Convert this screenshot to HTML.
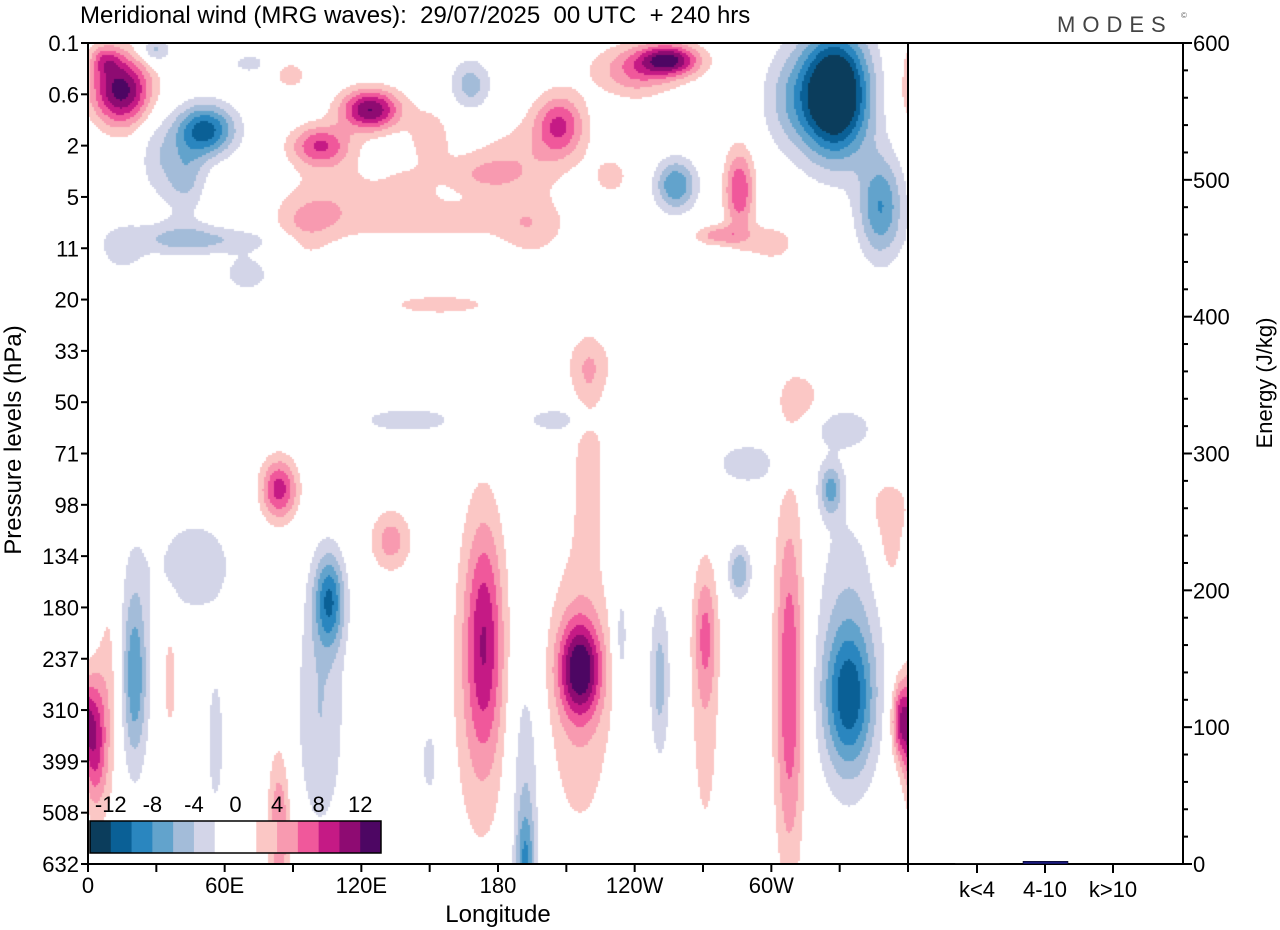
<!DOCTYPE html>
<html><head><meta charset="utf-8"><style>
html,body{margin:0;padding:0;background:#fff;width:1280px;height:930px;overflow:hidden}
#wrap{position:relative;width:1280px;height:930px;font-family:"Liberation Sans",sans-serif}
canvas{position:absolute;left:88px;top:43px}
svg{position:absolute;left:0;top:0}
</style></head><body>
<div id="wrap">
<canvas id="field" width="820" height="821"></canvas>
<svg id="ax" width="1280" height="930"></svg>
</div>
<script>
// ---- data ----
const levelLabels=["0.1","0.6","2","5","11","20","33","50","71","98","134","180","237","310","399","508","632"];
const lonTickLabels=["0","60E","120E","180","120W","60W"];
const lonTickValues=[0,60,120,180,240,300];
const cbarLabels=["-12","-8","-4","0","4","8","12"];
const cbarValues=[-12,-8,-4,0,4,8,12];
const cbarBounds=[-14,-12,-10,-8,-6,-4,-2,0,2,4,6,8,10,12,14];
const cbarColors=["#0b3d5c","#0a6096","#2a86bf","#62a3cc","#a3bcd9","#d3d5e8","#ffffff","#ffffff","#fbc7c5","#f89ab0","#f0589b","#c51a85","#8e0b72","#4d0663"];
const energyCats=["k<4","4-10","k>10"];
const energyVals=[0.5,2,0.3];
const energyTicks=[0,100,200,300,400,500,600];
// wave anomaly centres: longitude (deg E), level index, lon spread, level spread, amplitude (m/s)
const blobLon=[14.5,7.5,51.5,42.6,29.4,124,102,110,89,207,190,255,242,168,71,258,286,277,328,348,308,155,172,220,154,60,84,106,102,174,172,216,216,220,192,192,286,308,334,326,3,357,20.6,47,133,84,251,271,150,234,36,56,352,313,141,207,
 9.6,20,271,334,95,140,40,30,70,195,230,300,290,330,240,150,350,15];
const blobLev=[0.92,0.33,1.7,2.57,0.14,1.3,2.0,3.06,0.63,1.6,2.3,0.33,0.5,0.82,0.4,2.77,2.86,3.75,1.0,3.2,1.1,3.45,2.57,6.28,5.1,3.84,8.7,10.86,13.0,11.6,12.5,12.2,12.5,8.0,14.5,16.0,10.3,12.5,12.8,8.7,13.6,13.2,12.4,10.2,9.7,15.3,12.4,11.5,14.0,11.6,12.4,13.6,9.9,6.96,7.35,7.35,
 12.6,12.0,13.0,11.5,3.6,2.9,3.8,2.2,4.5,3.6,2.6,3.9,8.2,7.5,0.6,1.8,9.0,4.0];
const blobSLon=[13,6.6,13,9,6.6,13,13,22,8,11,22,13,26,9,8,9,6.6,11,15,10,13,35,18,11,35,35,8,6.6,11,8,13,9,15,6.6,6.6,4,5,6.6,11,5,5,4.4,5,18,9,5,4.4,5,4.4,3.5,3.5,4.4,6.6,11,26,18,
 5,8,7,15,14,12,18,8,12,15,10,12,18,15,14,10,12,10];
const blobSLev=[0.68,0.3,0.5,0.7,0.25,0.4,0.4,0.8,0.3,0.6,0.8,0.3,0.5,0.5,0.2,0.5,0.8,0.2,1.2,1.0,1.0,0.4,0.4,0.6,0.3,0.25,0.6,0.9,2.5,2.2,3.5,0.9,3.0,1.9,2.5,1.0,0.5,3.5,1.4,0.5,1.3,0.8,1.5,1.0,0.6,1.5,1.5,1.2,0.8,1.2,1.2,1.6,0.8,0.6,0.3,0.3,
 2.5,2.5,3.0,3.0,0.6,0.5,0.4,0.8,0.4,0.6,0.5,0.4,0.5,0.4,0.5,0.6,0.6,0.5];
const blobAmp=[13,5,-11,-5,-5,12,8,3,3,8,3,11,3,-5,-3,-8,8,5,-18,-8,-4,3,3,3,2.5,-3,9,-9,-4,7,3.5,11,4,3,-4,-6,-6,8,-9,-6,9,9,-5,-3.5,5,6,-5,4.5,-3,-3.5,3,-3,3,3,-3,-3,
 3,-3,3,-3.5,3.5,2.5,-3,-3,-3,3,2.5,3,-3,-3,3,3,3,-3];

// ---- axes geometry ----
const X0=88,X1=908,Y0=43,Y1=864,EX1=1183;
const xLon=l=>X0+l*(X1-X0)/360;
const yLev=i=>Y0+i*(Y1-Y0)/16;
const yE=v=>Y1-v*(Y1-Y0)/600;

// ---- field ----
const cv=document.getElementById('field'),ctx=cv.getContext('2d');
function colorFor(v){
  for(let k=0;k<cbarBounds.length-1;k++){ if(v<cbarBounds[k+1]) return cbarColors[k]; }
  return cbarColors[cbarColors.length-1];
}
const step=2;
for(let py=0;py<821;py+=step){
  const lev=(py+1)*16/821;
  for(let px=0;px<820;px+=step){
    const lon=(px+1)*360/820;
    let v=0;
    for(let b=0;b<blobLon.length;b++){
      let dl=lon-blobLon[b]; if(dl>180)dl-=360; if(dl<-180)dl+=360;
      const a=dl/blobSLon[b], c=(lev-blobLev[b])/blobSLev[b];
      const e=a*a+c*c; if(e<12) v+=blobAmp[b]*Math.exp(-e);
    }
    if(v<-14)v=-14.5; if(v>14)v=14.5;
    const col=colorFor(v);
    if(col!=="#ffffff"){ctx.fillStyle=col;ctx.fillRect(px,py,step,step);}
  }
}

// ---- svg axes ----
const svg=document.getElementById('ax');const NS='http://www.w3.org/2000/svg';
function el(t,a,txt){const e=document.createElementNS(NS,t);for(const k in a)e.setAttribute(k,a[k]);if(txt!==undefined)e.textContent=txt;svg.appendChild(e);return e;}
let e;
e=el('rect',{x:X0,y:Y0,width:EX1-X0,height:Y1-Y0,fill:'none',stroke:'#000','stroke-width':2});


e=el('line',{x1:X1,y1:Y0,x2:X1,y2:Y1,stroke:'#000','stroke-width':2});


levelLabels.forEach((s,i)=>{
  const y=yLev(i);
  e=el('line',{x1:X0-7,y1:y,x2:X0,y2:y,stroke:'#000','stroke-width':2});
  
  
  e=el('text',{x:X0-9,y:y+8,'text-anchor':'end','font-size':22},s);
  
  
});
for(let l=0;l<=360;l+=30){
  e=el('line',{x1:xLon(l),y1:Y1,x2:xLon(l),y2:Y1+8,stroke:'#000','stroke-width':2});
  
  
}
lonTickLabels.forEach((s,i)=>{
  e=el('text',{x:xLon(lonTickValues[i]),y:Y1+29,'text-anchor':'middle','font-size':22},s);
  
  
});
for(let v=0;v<=600;v+=20){
  const maj=v%100===0;
  e=el('line',{x1:EX1,y1:yE(v),x2:EX1+(maj?9:5),y2:yE(v),stroke:'#000','stroke-width':2});
  
  
}
energyTicks.forEach(v=>{
  e=el('text',{x:EX1+10,y:yE(v)+8,'font-size':22},String(v));
  
  
});
const eCx=[977,1045,1113];
energyCats.forEach((c,i)=>{
  e=el('line',{x1:eCx[i],y1:Y1,x2:eCx[i],y2:Y1+9,stroke:'#000','stroke-width':2});
  
  
  e=el('text',{x:eCx[i],y:Y1+33,'text-anchor':'middle','font-size':22},c);
  
  
  const h=Y1-yE(energyVals[i]);
  e=el('rect',{x:eCx[i]-22,y:Y1-h,width:45,height:h,fill:i===1?'#1a1a80':'#666',stroke:'#000','stroke-width':0.5});
  
  
});
// colorbar
const cbX0=90,cbX1=381,cbY=821,cbH=32,bw=(cbX1-cbX0)/14;
cbarColors.forEach((c,i)=>{
  e=el('rect',{x:cbX0+i*bw,y:cbY,width:bw+0.5,height:cbH,fill:c});
  
  
});
e=el('rect',{x:cbX0,y:cbY,width:cbX1-cbX0,height:cbH,fill:'none',stroke:'#000','stroke-width':1.5});


cbarLabels.forEach((s,i)=>{
  e=el('text',{x:cbX0+(cbarValues[i]+14)/2*bw,y:cbY-9,'text-anchor':'middle','font-size':22},s);
  
  
});
// titles
e=el('text',{x:80,y:23,'font-size':24},'Meridional wind (MRG waves):  29/07/2025  00 UTC  + 240 hrs');


e.style.whiteSpace='pre';
e=el('text',{x:1057,y:32,'font-size':22,fill:'#444','letter-spacing':'7'},'MODES');


e=el('text',{x:1181,y:18,'font-size':8,fill:'#666'},'©');


e=el('text',{x:498,y:922,'text-anchor':'middle','font-size':24},'Longitude');


e=el('text',{x:0,y:0,'text-anchor':'middle','font-size':24,transform:'translate(21,440) rotate(-90)'},'Pressure levels (hPa)');


e=el('text',{x:0,y:0,'text-anchor':'middle','font-size':22,transform:'translate(1272,383) rotate(-90)'},'Energy (J/kg)');


</script>
</body></html>
